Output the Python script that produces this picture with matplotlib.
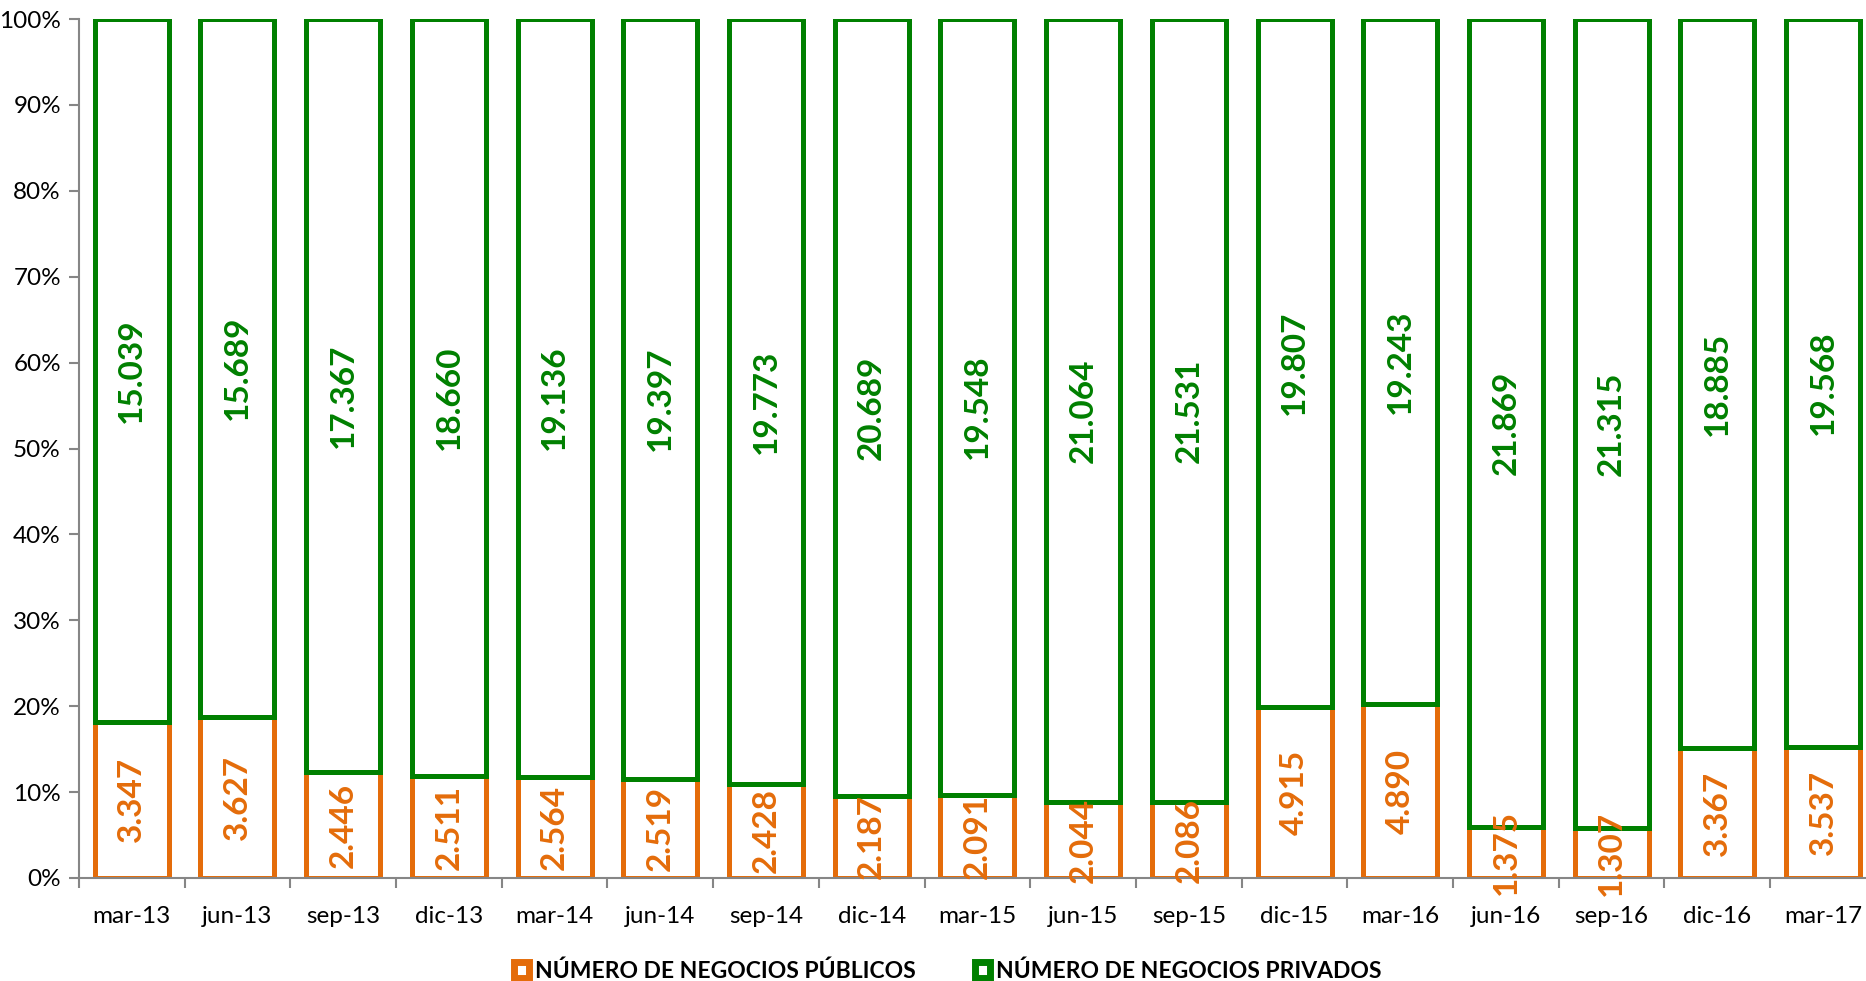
import matplotlib.pyplot as plt
import numpy as np
from matplotlib.patches import Patch

plt.rcParams["font.family"] = ["Lato", "DejaVu Sans"]

periodos = ["mar-13", "jun-13", "sep-13", "dic-13", "mar-14", "jun-14", "sep-14",
            "dic-14", "mar-15", "jun-15", "sep-15", "dic-15", "mar-16", "jun-16",
            "sep-16", "dic-16", "mar-17"]
publicos = [3347, 3627, 2446, 2511, 2564, 2519, 2428, 2187, 2091, 2044, 2086,
            4915, 4890, 1375, 1307, 3367, 3537]
privados = [15039, 15689, 17367, 18660, 19136, 19397, 19773, 20689, 19548, 21064,
            21531, 19807, 19243, 21869, 21315, 18885, 19568]

naranja = "#E46C0A"
verde = "#008000"
gris = "#868686"


def miles(v):
    return "{:,}".format(v).replace(",", ".")


def main():
    pub = np.array(publicos, dtype=float)
    pri = np.array(privados, dtype=float)
    total = pub + pri
    p_pub = pub / total * 100
    p_pri = pri / total * 100
    x = np.arange(len(periodos))

    fig = plt.figure(figsize=(18.66, 9.81), dpi=100)
    ax = fig.add_axes([0.0423, 0.105, 0.963, 0.8756])

    ax.bar(x, p_pub, width=0.7, color="white", edgecolor=naranja, linewidth=3.6, zorder=2)
    ax.bar(x, p_pri, width=0.7, bottom=p_pub, color="white", edgecolor=verde,
           linewidth=3.6, zorder=3)

    for i in range(len(x)):
        ax.text(x[i], p_pub[i] / 2, miles(publicos[i]), rotation=90, ha="center",
                va="center", color=naranja, fontsize=24, fontweight="bold",
                zorder=5, clip_on=False)
        ax.text(x[i], p_pub[i] + p_pri[i] / 2, miles(privados[i]), rotation=90,
                ha="center", va="center", color=verde, fontsize=24,
                fontweight="bold", zorder=5)

    ax.set_xlim(-0.5, len(x) - 0.5)
    ax.set_ylim(0, 100)
    ax.set_yticks(np.arange(0, 101, 10))
    ax.set_yticklabels(["{}%".format(v) for v in range(0, 101, 10)], fontsize=17.5)
    ax.set_xticks(x)
    ax.set_xticklabels(periodos, fontsize=17.5)
    ax.set_xticks(np.arange(-0.5, len(x), 1), minor=True)
    ax.tick_params(axis="x", which="major", length=0, pad=20)
    ax.tick_params(axis="x", which="minor", length=7, color=gris, width=1.5)
    ax.tick_params(axis="y", length=7, color=gris, width=1.5, pad=6)

    for s in ["top", "right"]:
        ax.spines[s].set_visible(False)
    for s in ["left", "bottom"]:
        ax.spines[s].set_color(gris)
        ax.spines[s].set_linewidth(1.5)

    handles = [Patch(facecolor="white", edgecolor=naranja, linewidth=5),
               Patch(facecolor="white", edgecolor=verde, linewidth=5)]
    fig.legend(handles, ["NÚMERO DE NEGOCIOS PÚBLICOS", "NÚMERO DE NEGOCIOS PRIVADOS"],
               loc="lower center", bbox_to_anchor=(0.508, -0.022), ncol=2, frameon=False,
               handlelength=0.65, handleheight=0.65, handletextpad=0.25, columnspacing=2.6,
               prop={"size": 16.5, "weight": "bold"})

    plt.savefig("out.png", dpi=100)


if __name__ == "__main__":
    main()
